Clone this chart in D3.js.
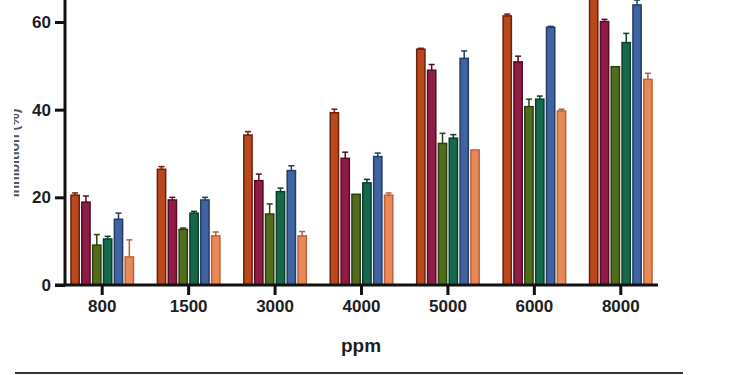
<!DOCTYPE html>
<html>
  <head>
    <title>ppm grouped bars</title>
    <meta charset="utf-8">
    <style type="text/css">
      body {
        margin: 0;
        background: #fff;
        font-family: "Liberation Sans", Arial, sans-serif;
      }
      .axis text {
        font-size: 17px;
        font-weight: bold;
        fill: #1e1e1e;
      }
      .axis path, .axis line {
        stroke: #111;
        stroke-width: 3px;
      }
      .err line {
        stroke-width: 1.5px;
      }
    </style>
  </head>
  <body>
    <script src="https://d3js.org/d3.v7.min.js"></script>
    <script>
    // data
    var categories = ["800", "1500", "3000", "4000", "5000", "6000", "8000"];
    var series = ["s1", "s2", "s3", "s4", "s5", "s6"];
    var yTicks = [0, 20, 40, 60];

    var s1 = [20.5, 26.4, 34.2, 39.3, 53.8, 61.4, 67];
    var s2 = [18.9, 19.4, 23.8, 28.9, 49.0, 50.9, 60.1];
    var s3 = [9.1, 12.7, 16.2, 20.7, 32.3, 40.7, 49.8];
    var s4 = [10.5, 16.4, 21.3, 23.3, 33.5, 42.4, 55.3];
    var s5 = [15.0, 19.4, 26.1, 29.3, 51.7, 58.8, 63.9];
    var s6 = [6.4, 11.2, 11.2, 20.5, 30.8, 39.7, 46.9];

    var e1 = [0.5, 0.6, 0.8, 0.8, 0.2, 0.4, 0];
    var e2 = [1.4, 0.6, 1.5, 1.4, 1.3, 1.3, 0.5];
    var e3 = [2.4, 0.3, 2.3, 0, 2.3, 1.7, 0];
    var e4 = [0.6, 0.4, 0.8, 0.8, 0.8, 0.7, 2.1];
    var e5 = [1.4, 0.6, 1.1, 0.8, 1.7, 0.2, 1.1];
    var e6 = [3.9, 0.9, 1.0, 0.5, 0, 0.4, 1.4];

    var fills = ["#b9481c", "#8e1c47", "#4f6c1f", "#17684b", "#3f64a0", "#e98958"];
    var strokes = ["#6a200a", "#560a26", "#2c3f0d", "#0b3d2b", "#243d66", "#b8623a"];

    var values = [s1, s2, s3, s4, s5, s6];
    var errors = [e1, e2, e3, e4, e5, e6];

    var width = 750, height = 375;

    var svg = d3.select("body").append("svg")
        .attr("width", width)
        .attr("height", height);

    // Scales
    var x0 = d3.scaleBand()
        .domain(categories)
        .range([59, 664]);

    var x1 = d3.scaleBand()
        .domain(series)
        .range([-32, 32])
        .paddingInner(0.1);

    var y = d3.scaleLinear()
        .domain([0, 60])
        .range([285, 22]);

    var rows = [];
    categories.forEach(function(c, i) {
      series.forEach(function(s, j) {
        rows.push({cat: c, ser: s, j: j, v: values[j][i], e: errors[j][i]});
      });
    });

    var g = svg.selectAll("g.bar")
        .data(rows)
        .enter().append("g")
        .attr("class", "bar")
        .attr("transform", function(d) {
          return "translate(" + (x0(d.cat) + x0.bandwidth() / 2 + x1(d.ser)) + ",0)";
        });

    g.append("rect")
        .attr("x", 0.75)
        .attr("width", x1.bandwidth() - 1.5)
        .attr("y", function(d) { return y(d.v); })
        .attr("height", function(d) { return y(0) - y(d.v); })
        .style("fill", function(d) { return fills[d.j]; })
        .style("stroke", function(d) { return strokes[d.j]; })
        .style("stroke-width", 1.5);

    var err = g.filter(function(d) { return d.e > 0; })
        .append("g")
        .attr("class", "err")
        .style("stroke", function(d) { return strokes[d.j]; });

    err.append("line")
        .attr("x1", x1.bandwidth() / 2)
        .attr("x2", x1.bandwidth() / 2)
        .attr("y1", function(d) { return y(d.v); })
        .attr("y2", function(d) { return y(d.v + d.e); });

    err.append("line")
        .attr("x1", x1.bandwidth() / 2 - 3)
        .attr("x2", x1.bandwidth() / 2 + 3)
        .attr("y1", function(d) { return y(d.v + d.e); })
        .attr("y2", function(d) { return y(d.v + d.e); });

    // Axes
    var yAxis = d3.axisLeft(y)
        .tickValues(yTicks)
        .tickSize(10)
        .tickSizeOuter(0)
        .tickPadding(4);

    var yg = svg.append("g")
        .attr("class", "y axis")
        .attr("transform", "translate(65,0)")
        .call(yAxis);
    yg.select(".domain").attr("d", "M0,286V0");

    var xAxis = d3.axisBottom(x0)
        .tickSize(10)
        .tickSizeOuter(0)
        .tickPadding(5);

    var xg = svg.append("g")
        .attr("class", "x axis")
        .attr("transform", "translate(0,285)")
        .call(xAxis);
    xg.select(".domain").attr("d", "M55,0H658");

    svg.append("text")
        .attr("x", 361)
        .attr("y", 352)
        .attr("text-anchor", "middle")
        .style("font-size", "19px")
        .style("font-weight", "bold")
        .style("fill", "#1e1e1e")
        .text("ppm");

    // y title is mostly cut off at the left edge
    svg.append("clipPath")
        .attr("id", "yclip")
      .append("rect")
        .attr("x", 14).attr("y", 0)
        .attr("width", 10).attr("height", 375);

    svg.append("g")
        .attr("clip-path", "url(#yclip)")
      .append("text")
        .attr("transform", "translate(19,153) rotate(-90)")
        .attr("text-anchor", "middle")
        .style("font-size", "14px")
        .style("font-weight", "bold")
        .style("fill", "#555")
        .text("Inhibition (%)");

    svg.append("line")
        .attr("x1", 15).attr("x2", 683)
        .attr("y1", 373).attr("y2", 373)
        .style("stroke", "#333")
        .style("stroke-width", 2);
    </script>
  </body>
</html>
